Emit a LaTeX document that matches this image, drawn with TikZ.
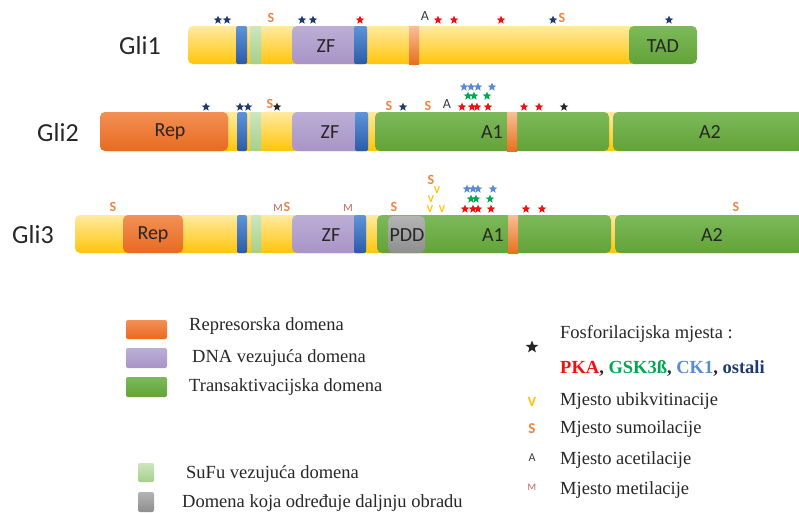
\documentclass[tikz,border=0pt]{standalone}
\usepackage{fontspec}
\setmainfont{Liberation Serif}
\setsansfont{Carlito}
\usetikzlibrary{shapes.geometric}
\definecolor{yelT}{HTML}{FFEAA0}
\definecolor{yelB}{HTML}{FFC50A}
\definecolor{orT}{HTML}{F29055}
\definecolor{orB}{HTML}{E86A20}
\definecolor{puT}{HTML}{BCAED6}
\definecolor{puB}{HTML}{A894C6}
\definecolor{grT}{HTML}{7DB95A}
\definecolor{grB}{HTML}{62A337}
\definecolor{blT}{HTML}{5E94DA}
\definecolor{blB}{HTML}{2A5CA6}
\definecolor{lgT}{HTML}{CDE6BE}
\definecolor{lgB}{HTML}{A6CF8A}
\definecolor{noT}{HTML}{F9BF95}
\definecolor{noB}{HTML}{E8701E}
\definecolor{gyT}{HTML}{B4B4B4}
\definecolor{gyB}{HTML}{8E8E8E}
\definecolor{pka}{HTML}{F20F14}
\definecolor{gsk}{HTML}{00A850}
\definecolor{ckone}{HTML}{5A8BD2}
\definecolor{navy}{HTML}{1F3A6E}
\definecolor{sumo}{HTML}{EE8440}
\definecolor{ubi}{HTML}{FFC000}
\definecolor{acet}{HTML}{3A3A3A}
\definecolor{meth}{HTML}{C0605E}
\begin{document}
\begin{tikzpicture}[x=1pt,y=-1pt,
  yelbar/.style={top color=yelT,bottom color=yelB,draw=none,rounded corners=5pt},
  repbox/.style={top color=orT,bottom color=orB,draw=none,rounded corners=5pt},
  zfbox/.style={top color=puT,bottom color=puB,draw=none,rounded corners=5pt},
  tabox/.style={top color=grT,bottom color=grB,draw=none,rounded corners=5pt},
  bluebar/.style={top color=blT,bottom color=blB,draw=none,rounded corners=1.5pt},
  sufubar/.style={top color=lgT,bottom color=lgB,draw=none,rounded corners=1pt},
  narrowbar/.style={top color=noT,bottom color=noB,draw=none},
  pddbox/.style={top color=gyT,bottom color=gyB,draw=none,rounded corners=5pt},
  pst/.style={star,star points=5,star point ratio=2.3,inner sep=0pt,minimum size=9pt,draw=none},
  domlab/.style={font=\sffamily\fontsize{20}{20}\selectfont,text=black!85,inner sep=0pt},
  glilab/.style={font=\sffamily\fontsize{26}{26}\selectfont,text=black!85,inner sep=0pt},
  smark/.style={font=\sffamily\bfseries\fontsize{14}{14}\selectfont,text=sumo,inner sep=0pt},
  amark/.style={font=\sffamily\fontsize{14}{14}\selectfont,text=acet,inner sep=0pt},
  mmark/.style={font=\sffamily\fontsize{11}{11}\selectfont,text=meth,inner sep=0pt},
  vmark/.style={font=\sffamily\bfseries\fontsize{10.5}{10.5}\selectfont,text=ubi,inner sep=0pt},
  legtext/.style={font=\fontsize{18.5}{18.5}\selectfont,text=black!85,anchor=west,inner sep=0pt},
  legbox/.style={draw=none,rounded corners=2pt}
]
\useasboundingbox (0,0) rectangle (799,512);

% ---------------- Gli1 ----------------
\node[glilab] (gli1) at (140,46) {Gli1};
\path[yelbar] (188,26) rectangle (642,64);
\path[bluebar] (236,26) rectangle (247,64);
\path[sufubar] (250,26) rectangle (261,64);
\path[zfbox] (292,26) rectangle (367,64);
\path[bluebar] (354,26) rectangle (367,64);
\path[narrowbar] (409,26) rectangle (419,64);
\path[tabox] (629,26) rectangle (697,64);
\node[domlab] (zf1) at (326,46) {ZF};
\node[domlab] (tad1) at (663,46) {TAD};
\foreach \x/\y [count=\i] in {218/20,227/20,302/20,313/20,553/20,669/20}
  \node[pst,fill=navy] (ao\i) at (\x,\y) {};
\foreach \x/\y [count=\i] in {360/20,438/20,454/20,501/20}
  \node[pst,fill=pka] (ar\i) at (\x,\y) {};
\node[smark] (as1) at (271,18) {S};
\node[smark] (as2) at (562,18) {S};
\node[amark] (aa1) at (425,16) {A};

% ---------------- Gli2 ----------------
\node[glilab] (gli2) at (58,133) {Gli2};
\path[yelbar] (100,112) rectangle (799,151);
\path[repbox] (100,112) rectangle (228,151);
\path[bluebar] (237,112) rectangle (247,151);
\path[sufubar] (250,112) rectangle (261,151);
\path[zfbox] (292,112) rectangle (368,151);
\path[bluebar] (355,112) rectangle (368,151);
\path[tabox] (375,112) rectangle (609,151);
\path[narrowbar] (507,112) rectangle (517,151);
\path[tabox] (613,112) rectangle (804,151);
\node[domlab] (rep2) at (170,132) {Rep};
\node[domlab] (zf2) at (330,132) {ZF};
\node[domlab] (aone2) at (492,132) {A1};
\node[domlab] (atwo2) at (710,132) {A2};
\foreach \x/\y [count=\i] in {206/107,240/107,248/107,403/107}
  \node[pst,fill=navy] (bo\i) at (\x,\y) {};
\foreach \x/\y [count=\i] in {277/107,564/107}
  \node[pst,fill=black!85] (bk\i) at (\x,\y) {};
\foreach \x/\y [count=\i] in {462/107,472/107,477/107,488/107,524/107,539/107}
  \node[pst,fill=pka] (br\i) at (\x,\y) {};
\foreach \x/\y [count=\i] in {468/96,474/96,487/96}
  \node[pst,fill=gsk] (bg\i) at (\x,\y) {};
\foreach \x/\y [count=\i] in {464/87,471/87,478/87,492/87}
  \node[pst,fill=ckone] (bb\i) at (\x,\y) {};
\node[smark] (bs1) at (270,104) {S};
\node[smark] (bs2) at (389,106) {S};
\node[smark] (bs3) at (428,106) {S};
\node[amark] (ba1) at (447,104) {A};

% ---------------- Gli3 ----------------
\node[glilab] (gli3) at (33,235) {Gli3};
\path[yelbar] (75,215) rectangle (799,253);
\path[repbox] (123,215) rectangle (183,253);
\path[bluebar] (237,215) rectangle (247,253);
\path[sufubar] (251,215) rectangle (261,253);
\path[zfbox] (292,215) rectangle (366,253);
\path[bluebar] (354,215) rectangle (366,253);
\path[tabox] (377,215) rectangle (611,253);
\path[pddbox] (388,216) rectangle (425,253);
\path[narrowbar] (508,215) rectangle (518,253);
\path[tabox] (615,215) rectangle (804,253);
\node[domlab] (rep3) at (153,235) {Rep};
\node[domlab] (zf3) at (331,235) {ZF};
\node[domlab] (pdd3) at (407,235) {PDD};
\node[domlab] (aone3) at (493,235) {A1};
\node[domlab] (atwo3) at (712,235) {A2};
\foreach \x/\y [count=\i] in {465/209,473/209,478/209,491/209,526/209,542/209}
  \node[pst,fill=pka] (cr\i) at (\x,\y) {};
\foreach \x/\y [count=\i] in {471/199,476/199,490/199}
  \node[pst,fill=gsk] (cg\i) at (\x,\y) {};
\foreach \x/\y [count=\i] in {467/189,473/189,478/189,493/189}
  \node[pst,fill=ckone] (cb\i) at (\x,\y) {};
\foreach \x/\y [count=\i] in {113/207,287/207,394/207,431/180,736/207}
  \node[smark] (cs\i) at (\x,\y) {S};
\foreach \x/\y [count=\i] in {278/208,348/208}
  \node[mmark] (cm\i) at (\x,\y) {M};
\foreach \x/\y [count=\i] in {430/209,442/209,431/199.5,437/190}
  \node[vmark] (cv\i) at (\x,\y) {V};

% ---------------- Legend left ----------------
\path[legbox,top color=orT,bottom color=orB] (126,320) rectangle (167,339);
\path[legbox,top color=puT,bottom color=puB] (126,348) rectangle (167,368);
\path[legbox,top color=grT,bottom color=grB] (126,377) rectangle (167,397);
\node[legtext] (lrep) at (189,326) {Represorska domena};
\node[legtext] (ldna) at (192,358) {DNA vezujuća domena};
\node[legtext] (ltra) at (189,387) {Transaktivacijska domena};
\path[legbox,top color=lgT,bottom color=lgB] (138,463) rectangle (154,482);
\path[legbox,top color=gyT,bottom color=gyB] (138,492) rectangle (154,512);
\node[legtext] (lsufu) at (186,474) {SuFu vezujuća domena};
\node[legtext] (lpdd) at (182,503) {Domena koja određuje daljnju obradu};

% ---------------- Legend right ----------------
\node[pst,fill=black!85,minimum size=13pt] (lstar) at (532,347) {};
\node[legtext] (lfos) at (560,334) {Fosforilacijska mjesta :};
\node[legtext,font=\bfseries\fontsize{18.5}{18.5}\selectfont] (lkin) at (560,368)
  {\textcolor{pka}{PKA}, \textcolor{gsk}{GSK3ß}, \textcolor{ckone}{CK1}, \textcolor{navy}{ostali}};
\node[vmark,font=\sffamily\bfseries\fontsize{14}{14}\selectfont] (lv) at (532,402) {V};
\node[legtext] (lvt) at (560,401) {Mjesto ubikvitinacije};
\node[smark,font=\sffamily\bfseries\fontsize{15}{15}\selectfont] (ls) at (532,429) {S};
\node[legtext] (lst) at (560,429) {Mjesto sumoilacije};
\node[amark,font=\sffamily\fontsize{12}{12}\selectfont] (la) at (532,458) {A};
\node[legtext] (lat) at (560,460) {Mjesto acetilacije};
\node[mmark,font=\sffamily\fontsize{10}{10}\selectfont] (lm) at (532,487) {M};
\node[legtext] (lmt) at (560,490) {Mjesto metilacije};
\end{tikzpicture}
\end{document}
